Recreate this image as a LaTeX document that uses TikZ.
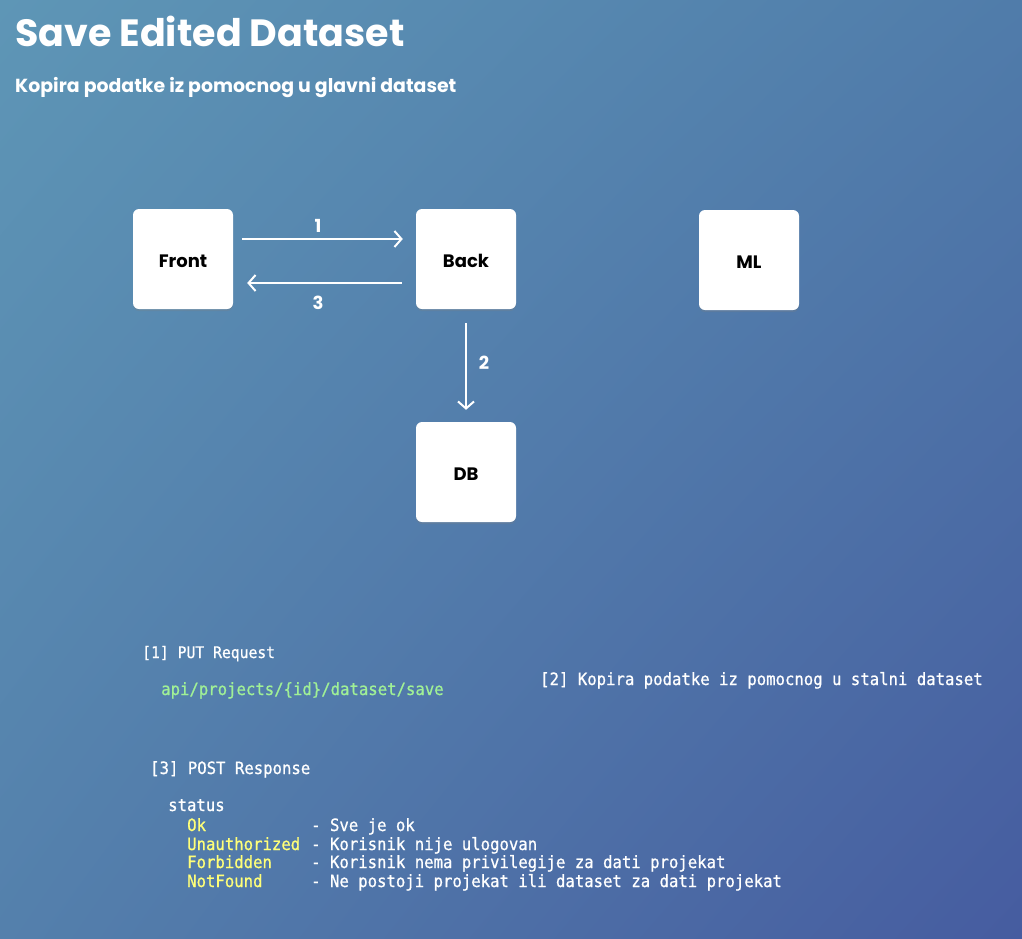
\documentclass[tikz,border=0pt]{standalone}
\usepackage{fontspec}
\setmainfont{Poppins}
\newfontfamily\codefont[FakeStretch=0.92,FakeBold=0.8]{DejaVu Sans Mono}
\usetikzlibrary{shadows,shadings,arrows.meta}
\definecolor{bgTL}{RGB}{94,150,182}
\definecolor{bgTR}{RGB}{80,124,170}
\definecolor{bgBL}{RGB}{84,128,172}
\definecolor{bgBR}{RGB}{70,92,160}
\definecolor{codegreen}{RGB}{160,240,150}
\definecolor{codeyellow}{RGB}{255,255,120}
\tikzset{
  box/.style={fill=white, rounded corners=6pt, minimum width=100pt, minimum height=100pt, inner sep=0pt,
    font=\bfseries\fontsize{18}{20}\selectfont, text=black, text height=17pt, text depth=0pt,
    drop shadow={shadow xshift=0pt, shadow yshift=-2pt, opacity=0.25}},
  arr/.style={draw=white, line width=2pt, -{Straight Barb[length=7pt,width=16pt]}},
  lbl/.style={text=white, font=\bfseries\fontsize{18}{20}\selectfont, inner sep=0pt},
  code/.style={text=white, anchor=base west, inner sep=0pt, font=\codefont\fontsize{17}{19}\selectfont},
  key/.style={code, text=codeyellow},
}
\begin{document}
\begin{tikzpicture}[x=1pt,y=-1pt]
\shade[upper left=bgTL, upper right=bgTR, lower left=bgBL, lower right=bgBR] (0,0) rectangle (1022,938);
\useasboundingbox (0,0) rectangle (1022,938);

\node[anchor=base west, inner sep=0pt, text=white, font=\bfseries\fontsize{38}{40}\selectfont] (title) at (15,46) {Save Edited Dataset};
\node[anchor=base west, inner sep=0pt, text=white, font=\bfseries\fontsize{18.9}{21}\selectfont] (subtitle) at (15,92) {Kopira podatke iz pomocnog u glavni dataset};

\node[box] (front) at (183,259) {Front};
\node[box] (back) at (466,259) {Back};
\node[box] (ml) at (749,260) {ML};
\node[box] (db) at (466,472) {DB};

\draw[arr, shorten <=9pt, shorten >=13pt] ([yshift=20pt]front.east) -- ([yshift=20pt]back.west);
\draw[arr, shorten <=14pt, shorten >=14pt] ([yshift=-24pt]back.west) -- ([yshift=-24pt]front.east);
\draw[arr, shorten <=14pt, shorten >=12pt] (back.south) -- (db.north);
\node[lbl] (l1) at (318,226) {1};
\node[lbl] (l3) at (318,303) {3};
\node[lbl] (l2) at (484,363) {2};

\node[code, font=\codefont\fontsize{16}{18}\selectfont] (req) at (142,658) {[1] PUT Request};
\node[code, text=codegreen] (url) at (161,695) {api/projects/\{id\}/dataset/save};
\node[code] (copy) at (540,685) {[2] Kopira podatke iz pomocnog u stalni dataset};
\node[code] (resp) at (150,774) {[3] POST Response};
\node[code] (status) at (168,811) {status};
\node[key] (k1) at (187,831) {Ok};
\node[key] (k2) at (187,850) {Unauthorized};
\node[key] (k3) at (187,868) {Forbidden};
\node[key] (k4) at (187,887) {NotFound};
\node[code] (d1) at (311,831) {- Sve je ok};
\node[code] (d2) at (311,850) {- Korisnik nije ulogovan};
\node[code] (d3) at (311,868) {- Korisnik nema privilegije za dati projekat};
\node[code] (d4) at (311,887) {- Ne postoji projekat ili dataset za dati projekat};
\end{tikzpicture}
\end{document}
